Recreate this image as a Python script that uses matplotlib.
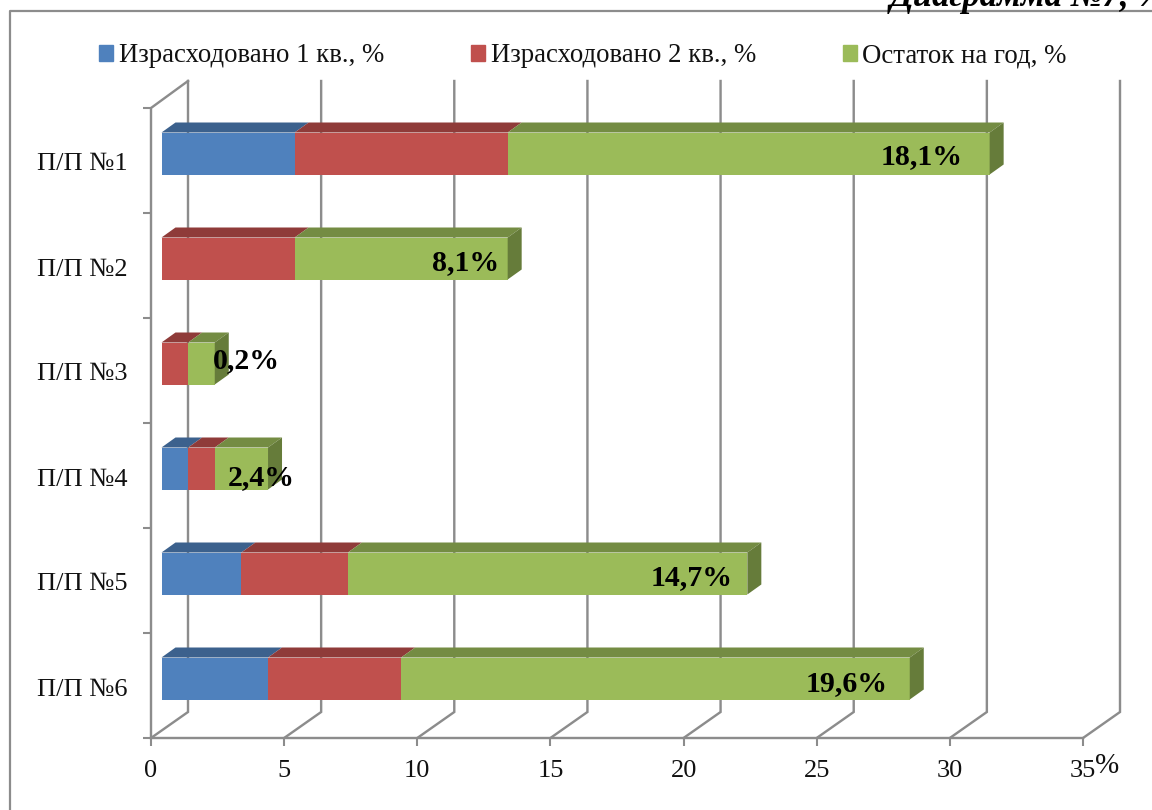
# plot.py
import matplotlib
matplotlib.use('Agg')
import matplotlib.pyplot as plt
from matplotlib.lines import Line2D
from matplotlib.patches import Patch

categories = ["П/П №1", "П/П №2", "П/П №3", "П/П №4", "П/П №5", "П/П №6"]
spent_q1 = [5, 0, 0, 1, 3, 4]
spent_q2 = [8, 5, 1, 1, 4, 5]
remainder = [18.1, 8, 1, 2, 15, 19.1]
remainder_labels = ["18,1%", "8,1%", "0,2%", "2,4%", "14,7%", "19,6%"]
series_names = ["Израсходовано 1 кв., %", "Израсходовано 2 кв., %", "Остаток на год, %"]
x_ticks = [0, 5, 10, 15, 20, 25, 30, 35]

# label offset from the bar end, pixels
label_dx = [-68, -42, 32, -7, -56, -63]
label_dy = [3, 4, -3, 9, 4, 5]

front_colors = ["#4F81BD", "#C0504D", "#9BBB59"]
top_colors = ["#3C618D", "#8F3B39", "#748C43"]
side_color = "#667C3A"
grid_color = "#8C8C8C"

W, H = 1152, 810
plt.rcParams['font.family'] = ['Liberation Serif', 'DejaVu Serif']

fig = plt.figure(figsize=(W / 100, H / 100), dpi=100)
# axes box = the front plane of the 3D chart
ax = fig.add_axes([151 / W, 1 - 738 / H, (1083 - 151) / W, (738 - 108) / H])
ax.set_xlim(0, 35)
ax.set_ylim(6, 0)
ax.patch.set_alpha(0)
for s in ax.spines.values():
    s.set_visible(False)

px = 35 / (1083 - 151)   # data x per pixel
py = 6 / (738 - 108)     # data y per pixel


def pts(*xy):
    return [p[0] for p in xy], [p[1] for p in xy]


# walls and grid, 37/26 px behind the front plane
wx, wy = 37 * px, 26 * py
wall_top = -1 * (108 - 81) * py
lw = 2.4 * 72 / 100
for t in x_ticks:
    xs, ys = pts((t, 6), (t + wx, 6 - wy), (t + wx, wall_top))
    ax.plot(xs, ys, color=grid_color, lw=lw, clip_on=False, zorder=1, solid_joinstyle='miter')
xs, ys = pts((0, 6), (0, 0), (wx, wall_top))
ax.plot(xs, ys, color=grid_color, lw=lw, clip_on=False, zorder=1)
ax.plot([0, 35], [6, 6], color=grid_color, lw=lw, clip_on=False, zorder=1)

# bars
bx, by = 10.5 * px, 7 * py        # shift of the front face
dx, dy = 14 * px, 10 * py         # bar depth
bar_h = 42 * py

for i in range(len(categories)):
    left = bx
    y0 = i + 0.5 - by
    top = y0 - bar_h / 2
    bottom = y0 + bar_h / 2
    for vals, fc, tc in zip([spent_q1, spent_q2, remainder], front_colors, top_colors):
        v = vals[i]
        if v == 0:
            continue
        ax.barh(y0, v, left=left, height=bar_h, color=fc, zorder=3)
        xs, ys = pts((left, top), (left + dx, top - dy), (left + v + dx, top - dy), (left + v, top))
        ax.fill(xs, ys, color=tc, lw=0, zorder=3)
        left += v
    xs, ys = pts((left, top), (left + dx, top - dy), (left + dx, bottom - dy), (left, bottom))
    ax.fill(xs, ys, color=side_color, lw=0, zorder=3)
    ax.text(left + label_dx[i] * px, y0 + label_dy[i] * py, remainder_labels[i],
            ha='center', va='center', fontsize=21.5, fontweight='bold', color='black', zorder=5)

# ticks
ax.set_xticks(x_ticks)
ax.set_yticks(range(7))
ax.set_yticklabels([])
ax.set_yticks([i + 0.5 + 1.5 * py for i in range(6)], labels=categories, minor=True)
ax.tick_params(axis='both', which='major', length=5.5, width=1.5, color=grid_color,
               labelsize=19, labelcolor='#111111')
ax.tick_params(axis='x', pad=10)
ax.tick_params(axis='y', which='minor', length=0, pad=17, labelsize=19, labelcolor='#111111')
ax.xaxis.set_ticks_position('bottom')
ax.spines['bottom'].set_position(('data', 6))

fig.text(1107 / W, 1 - 766 / H, "%", fontsize=21, ha='center', va='center', color='#111111')

# legend
handles = [Patch(color=c) for c in front_colors]
leg = fig.legend(handles, series_names, ncol=3, loc='center left',
                 bbox_to_anchor=(99 / W, 1 - 56 / H), frameon=False, fontsize=19.3,
                 handlelength=0.53, handleheight=0.5, handletextpad=0.2,
                 columnspacing=3.25, borderpad=0, borderaxespad=0, labelcolor='#111111')

# chart frame, cut by the image edges
fig.add_artist(Line2D([9.5 / W, 9.5 / W, 1], [0, 1 - 10.5 / H, 1 - 10.5 / H],
                      color=grid_color, lw=1.6))

# clipped caption above the frame
fig.text(890 / W, 1 - 6 / H, "Диаграмма №7, %", fontsize=25, fontweight='bold', fontstyle='italic',
         ha='left', va='baseline', color='black')

fig.savefig("out.png", dpi=100)
